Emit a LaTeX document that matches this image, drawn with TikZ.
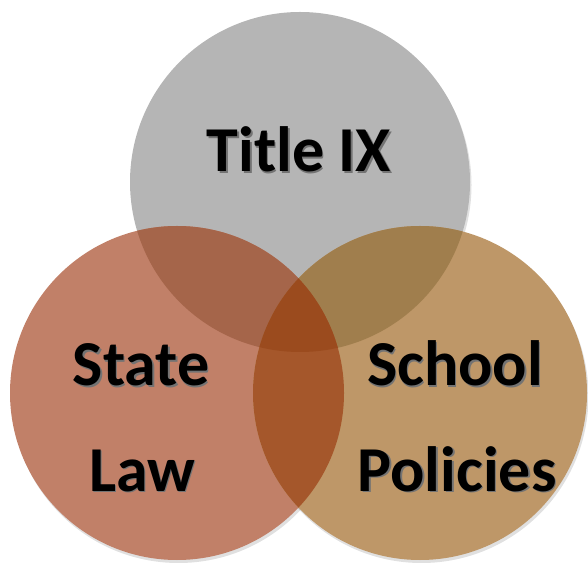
\documentclass[tikz,border=0pt]{standalone}
\usepackage{fontspec}
\setmainfont{Carlito}
\definecolor{cTop}{RGB}{181,181,181}
\definecolor{cLeft}{RGB}{193,128,104}
\definecolor{cRight}{RGB}{190,151,104}
\definecolor{cTL}{RGB}{165,101,74}
\definecolor{cTR}{RGB}{160,126,77}
\definecolor{cLR}{RGB}{165,87,43}
\definecolor{cTLR}{RGB}{155,75,30}
\newcommand\shadowtxt[1]{\leavevmode\rlap{\kern1.6pt\raisebox{-1.6pt}{\textcolor{black!55}{#1}}}#1}
\tikzset{
  lbl/.style={font=\fontsize{64}{80}\selectfont\bfseries, anchor=base, inner sep=0pt, text=black},
  circshadow/.style={fill=black, opacity=0.12}
}
\begin{document}
\begin{tikzpicture}[x=1pt,y=1pt]
\useasboundingbox (0,0) rectangle (588,562);
\coordinate (T) at (300,380);
\coordinate (L) at (177,169);
\coordinate (R) at (420,169);
% shadows
\fill[circshadow] ([shift={(1.5,-3)}]T) circle (170);
\fill[circshadow] ([shift={(1.5,-3)}]L) circle (167);
\fill[circshadow] ([shift={(1.5,-3)}]R) circle (167);
% circles
\fill[cTop] (T) circle (170);
\fill[cLeft] (L) circle (167);
\fill[cRight] (R) circle (167);
% pairwise overlaps
\begin{scope}
  \clip (T) circle (170);
  \fill[cTL] (L) circle (167);
  \fill[cTR] (R) circle (167);
\end{scope}
\begin{scope}
  \clip (L) circle (167);
  \fill[cLR] (R) circle (167);
  \clip (R) circle (167);
  \fill[cTLR] (T) circle (170);
\end{scope}
% labels
\node[lbl] (title) at (299,390) {\shadowtxt{Title IX}};
\node[lbl] (state) at (141,176) {\shadowtxt{State}};
\node[lbl] (law) at (142,71) {\shadowtxt{Law}};
\node[lbl] (school) at (455,176) {\shadowtxt{School}};
\node[lbl] (policies) at (457,71) {\shadowtxt{Policies}};
\end{tikzpicture}
\end{document}
